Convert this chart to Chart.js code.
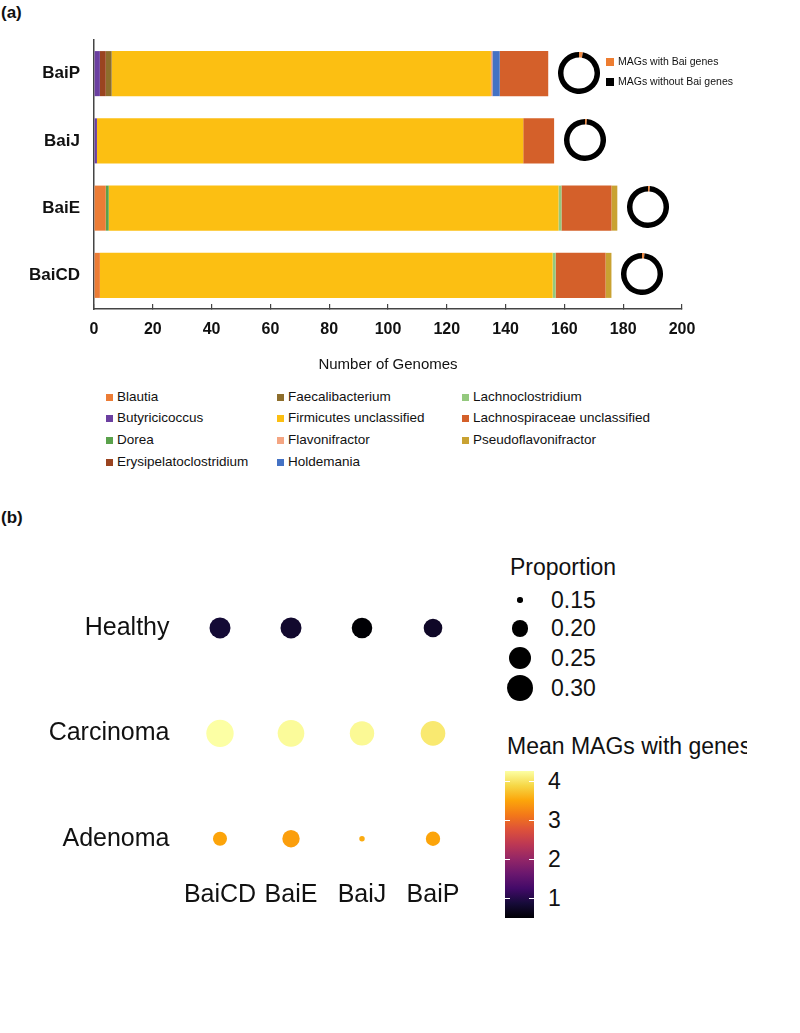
<!DOCTYPE html>
<html><head><meta charset="utf-8">
<script src="https://cdn.jsdelivr.net/npm/chart.js@4.4.1/dist/chart.umd.min.js"></script>
<style>
html,body{margin:0;padding:0;background:#fff;}
body{width:800px;height:1033px;position:relative;overflow:hidden;font-family:"Liberation Sans",Arial,sans-serif;color:#111;}
.abs{position:absolute;}
.lg{position:absolute;font-size:13.5px;line-height:16px;white-space:nowrap;}
.sq{position:absolute;width:7px;height:7px;}
</style></head><body>
<div class="abs" style="left:1px;top:3px;font:bold 17px 'Liberation Sans';">(a)</div>
<canvas id="barChart" class="abs" style="left:0;top:0" width="800" height="378"></canvas>
<div id="barLegend"></div>
<div id="donutLegend"></div>
<div class="abs" style="left:1px;top:508px;font:bold 17px 'Liberation Sans';">(b)</div>
<canvas id="bubbleChart" class="abs" style="left:0;top:540px" width="500" height="400"></canvas>
<div id="sizeLegend"></div>
<div id="colorLegend"></div>
<script>
// ---------- Panel (a) data ----------
const genes = ['BaiP', 'BaiJ', 'BaiE', 'BaiCD'];
const taxa = ['Blautia', 'Butyricicoccus', 'Dorea', 'Erysipelatoclostridium', 'Faecalibacterium',
  'Firmicutes unclassified', 'Flavonifractor', 'Holdemania', 'Lachnoclostridium',
  'Lachnospiraceae unclassified', 'Pseudoflavonifractor'];
// counts in gene order: BaiP, BaiJ, BaiE, BaiCD
const blautia = [0, 0, 4, 2];
const butyricicoccus = [2, 1, 0, 0];
const dorea = [0, 0, 1, 0];
const erysipelatoclostridium = [2, 0, 0, 0];
const faecalibacterium = [2, 0, 0, 0];
const firmicutesUnclassified = [129, 145, 153, 154];
const flavonifractor = [0.5, 0, 0, 0];
const holdemania = [2.5, 0, 0, 0];
const lachnoclostridium = [0, 0, 1, 1];
const lachnospiraceaeUnclassified = [16.5, 10.5, 17, 17];
const pseudoflavonifractor = [0, 0, 2, 2];
const genomeTicks = [0, 20, 40, 60, 80, 100, 120, 140, 160, 180, 200];
// donut: percent of MAGs with / without Bai genes
const donutLabels = ['MAGs with Bai genes', 'MAGs without Bai genes'];
const withBai = [3, 1.5, 1.5, 2];
const withoutBai = [97, 98.5, 98.5, 98];

// ---------- Panel (b) data ----------
const conditions = ['Healthy', 'Carcinoma', 'Adenoma'];
const baiGenes = ['BaiCD', 'BaiE', 'BaiJ', 'BaiP'];
const propHealthy = [0.235, 0.235, 0.231, 0.213];
const propCarcinoma = [0.31, 0.30, 0.272, 0.275];
const propAdenoma = [0.18, 0.203, 0.150, 0.182];
const meanHealthy = [0.85, 0.8, 0.5, 0.75];
const meanCarcinoma = [4.26, 4.22, 4.2, 4.05];
const meanAdenoma = [3.5, 3.45, 3.55, 3.5];
const sizeBreaks = [0.15, 0.20, 0.25, 0.30];
const colorBreaks = [1, 2, 3, 4];

// ---------- styles ----------
const taxaColors = ['#ec7c35', '#6b3fa0', '#5aa14b', '#9a4420', '#8d6e2c', '#fcbf12', '#f4a582',
  '#4472c4', '#94c97e', '#d4602a', '#c9a232'];
const donutColors = ['#ed8a45', '#000000'];
const FONT = 'Liberation Sans';
const taxaCounts = [blautia, butyricicoccus, dorea, erysipelatoclostridium, faecalibacterium,
  firmicutesUnclassified, flavonifractor, holdemania, lachnoclostridium,
  lachnospiraceaeUnclassified, pseudoflavonifractor];

const barChart = new Chart(document.getElementById('barChart'), {
  type: 'bar',
  data: {
    labels: genes,
    datasets: taxa.map((t, i) => ({
      label: t, data: taxaCounts[i], backgroundColor: taxaColors[i], borderWidth: 0,
      categoryPercentage: 1, barPercentage: 0.67
    }))
  },
  options: {
    indexAxis: 'y', responsive: false, animation: false, devicePixelRatio: 1,
    layout: { padding: { top: 40, right: 118, left: 0, bottom: 0 } },
    plugins: { legend: { display: false }, tooltip: { enabled: false } },
    scales: {
      x: {
        stacked: true, min: 0, max: 200,
        afterBuildTicks: s => { s.ticks = genomeTicks.map(v => ({ value: v })); },
        ticks: { color: '#111', font: { family: FONT, size: 16, weight: 'bold' }, padding: 16, maxRotation: 0, autoSkip: false },
        grid: { display: true, drawOnChartArea: false, drawTicks: true, tickLength: -5, color: '#444', lineWidth: 1.2 },
        border: { display: true, color: '#444', width: 1.5 },
        title: { display: true, text: 'Number of Genomes', font: { family: FONT, size: 15 }, color: '#111', padding: { top: 0, bottom: 4 } },
        afterFit: s => { s.height = 69; }
      },
      y: {
        stacked: true,
        ticks: { color: '#111', font: { family: FONT, size: 17, weight: 'bold' }, padding: 14 },
        grid: { display: false, drawTicks: false },
        border: { display: true, color: '#444', width: 1.5 },
        afterFit: s => { s.width = 94; }
      }
    }
  }
});

// donuts placed after each bar's end
genes.forEach((g, i) => {
  const total = taxaCounts.reduce((s, arr) => s + arr[i], 0);
  const cx = barChart.scales.x.getPixelForValue(total) + 31;
  const cy = barChart.scales.y.getPixelForValue(i);
  const c = document.createElement('canvas');
  c.width = 42; c.height = 42; c.className = 'abs';
  c.style.left = (cx - 21) + 'px'; c.style.top = (cy - 22) + 'px';
  document.body.appendChild(c);
  new Chart(c, {
    type: 'doughnut',
    data: { labels: donutLabels, datasets: [{ data: [withBai[i], withoutBai[i]], backgroundColor: donutColors, borderWidth: 0 }] },
    options: { responsive: false, animation: false, devicePixelRatio: 1, cutout: '74%',
      plugins: { legend: { display: false }, tooltip: { enabled: false } } }
  });
});

// donut legend
(function () {
  const el = document.getElementById('donutLegend');
  donutLabels.forEach((t, i) => {
    const y = 58 + i * 19.5;
    el.insertAdjacentHTML('beforeend',
      `<div class="abs" style="left:606px;top:${y}px;width:8px;height:8px;background:${i === 0 ? '#ed7d31' : '#000'}"></div>` +
      `<div class="abs" style="left:618px;top:${y - 3}px;font-size:10.5px;line-height:13px;white-space:nowrap">${t}</div>`);
  });
})();

// bar legend (3 columns)
(function () {
  const el = document.getElementById('barLegend');
  const colX = [106, 277, 462];
  const rowsPerCol = 4;
  taxa.forEach((t, i) => {
    const col = Math.floor(i / rowsPerCol), row = i % rowsPerCol;
    const cy = 397 + row * 21.7;
    el.insertAdjacentHTML('beforeend',
      `<div class="sq" style="left:${colX[col]}px;top:${cy - 3.5}px;background:${taxaColors[i]}"></div>` +
      `<div class="lg" style="left:${colX[col] + 11}px;top:${cy - 8.5}px">${t}</div>`);
  });
})();

// ---------- Panel (b) ----------
const inferno = ['#000004', '#160b39', '#420a68', '#6a176e', '#932667', '#bc3754', '#dd513a', '#f37819', '#fca50a', '#f6d746', '#fcffa4'];
function hex(h) { return [parseInt(h.slice(1, 3), 16), parseInt(h.slice(3, 5), 16), parseInt(h.slice(5, 7), 16)]; }
function infernoAt(t) {
  t = Math.max(0, Math.min(1, t));
  const p = t * 10, i = Math.min(9, Math.floor(p)), f = p - i;
  const a = hex(inferno[i]), b = hex(inferno[i + 1]);
  return 'rgb(' + a.map((v, k) => Math.round(v + (b[k] - v) * f)).join(',') + ')';
}
const allMeans = meanHealthy.concat(meanCarcinoma, meanAdenoma);
const cMin = Math.min(...allMeans), cMax = Math.max(...allMeans);
const colorOf = v => infernoAt((v - cMin) / (cMax - cMin));
const radiusOf = p => 1.8 + 12.1 * Math.sqrt(Math.max(0, (p - 0.149) / 0.167));

const propRows = [propHealthy, propCarcinoma, propAdenoma];
const meanRows = [meanHealthy, meanCarcinoma, meanAdenoma];
const pts = [], cols = [];
conditions.forEach((c, ci) => {
  baiGenes.forEach((g, gi) => {
    pts.push({ x: gi, y: conditions.length - 1 - ci, r: radiusOf(propRows[ci][gi]) });
    cols.push(colorOf(meanRows[ci][gi]));
  });
});

new Chart(document.getElementById('bubbleChart'), {
  type: 'bubble',
  data: { datasets: [{ data: pts, backgroundColor: cols, borderWidth: 0, hoverRadius: 0, clip: false }] },
  options: {
    responsive: false, animation: false, devicePixelRatio: 1,
    layout: { padding: { top: 23.9, right: 31.5, left: 0, bottom: 0 } },
    plugins: { legend: { display: false }, tooltip: { enabled: false } },
    scales: {
      x: {
        type: 'linear', min: -0.5, max: 3.5,
        afterBuildTicks: s => { s.ticks = baiGenes.map((_, i) => ({ value: i })); },
        ticks: { callback: v => baiGenes[v], color: '#111', font: { family: FONT, size: 25 }, padding: 5, maxRotation: 0, autoSkip: false },
        grid: { display: false, drawTicks: false }, border: { display: false },
        afterFit: s => { s.height = 64.4; }
      },
      y: {
        type: 'linear', min: -0.35, max: 2.55,
        afterBuildTicks: s => { s.ticks = conditions.map((_, i) => ({ value: i })); },
        ticks: { callback: v => conditions[conditions.length - 1 - v], color: '#111', font: { family: FONT, size: 25 }, padding: 15, autoSkip: false },
        grid: { display: false, drawTicks: false }, border: { display: false },
        afterFit: s => { s.width = 184.5; }
      }
    }
  }
});

// size legend
(function () {
  const el = document.getElementById('sizeLegend');
  el.insertAdjacentHTML('beforeend', `<div class="abs" style="left:510px;top:554px;font-size:23px;line-height:27px;white-space:nowrap">Proportion</div>`);
  const rowY = [600, 628.5, 658, 688];
  sizeBreaks.forEach((p, i) => {
    const r = radiusOf(p);
    el.insertAdjacentHTML('beforeend',
      `<div class="abs" style="left:${520 - r}px;top:${rowY[i] - r}px;width:${2 * r}px;height:${2 * r}px;border-radius:50%;background:#000"></div>` +
      `<div class="abs" style="left:551px;top:${rowY[i] - 13.5}px;font-size:23px;line-height:27px">${p.toFixed(2)}</div>`);
  });
})();

// colour legend
(function () {
  const el = document.getElementById('colorLegend');
  el.insertAdjacentHTML('beforeend', `<div class="abs" style="left:507px;top:733px;width:240px;overflow:hidden;font-size:23px;line-height:27px;white-space:nowrap">Mean MAGs with genes</div>`);
  const top = 771, h = 147, left = 505, w = 29;
  el.insertAdjacentHTML('beforeend', `<div class="abs" style="left:${left}px;top:${top}px;width:${w}px;height:${h}px;background:linear-gradient(to top, ${inferno.map((c, i) => c + ' ' + (i * 10) + '%').join(',')})"></div>`);
  colorBreaks.forEach(v => {
    const y = top + (cMax - v) / (cMax - cMin) * h;
    el.insertAdjacentHTML('beforeend',
      `<div class="abs" style="left:${left}px;top:${y - 0.5}px;width:5px;height:1.2px;background:#fff"></div>` +
      `<div class="abs" style="left:${left + w - 5}px;top:${y - 0.5}px;width:5px;height:1.2px;background:#fff"></div>` +
      `<div class="abs" style="left:548px;top:${y - 13.5}px;font-size:23px;line-height:27px">${v}</div>`);
  });
})();
</script>
</body></html>
